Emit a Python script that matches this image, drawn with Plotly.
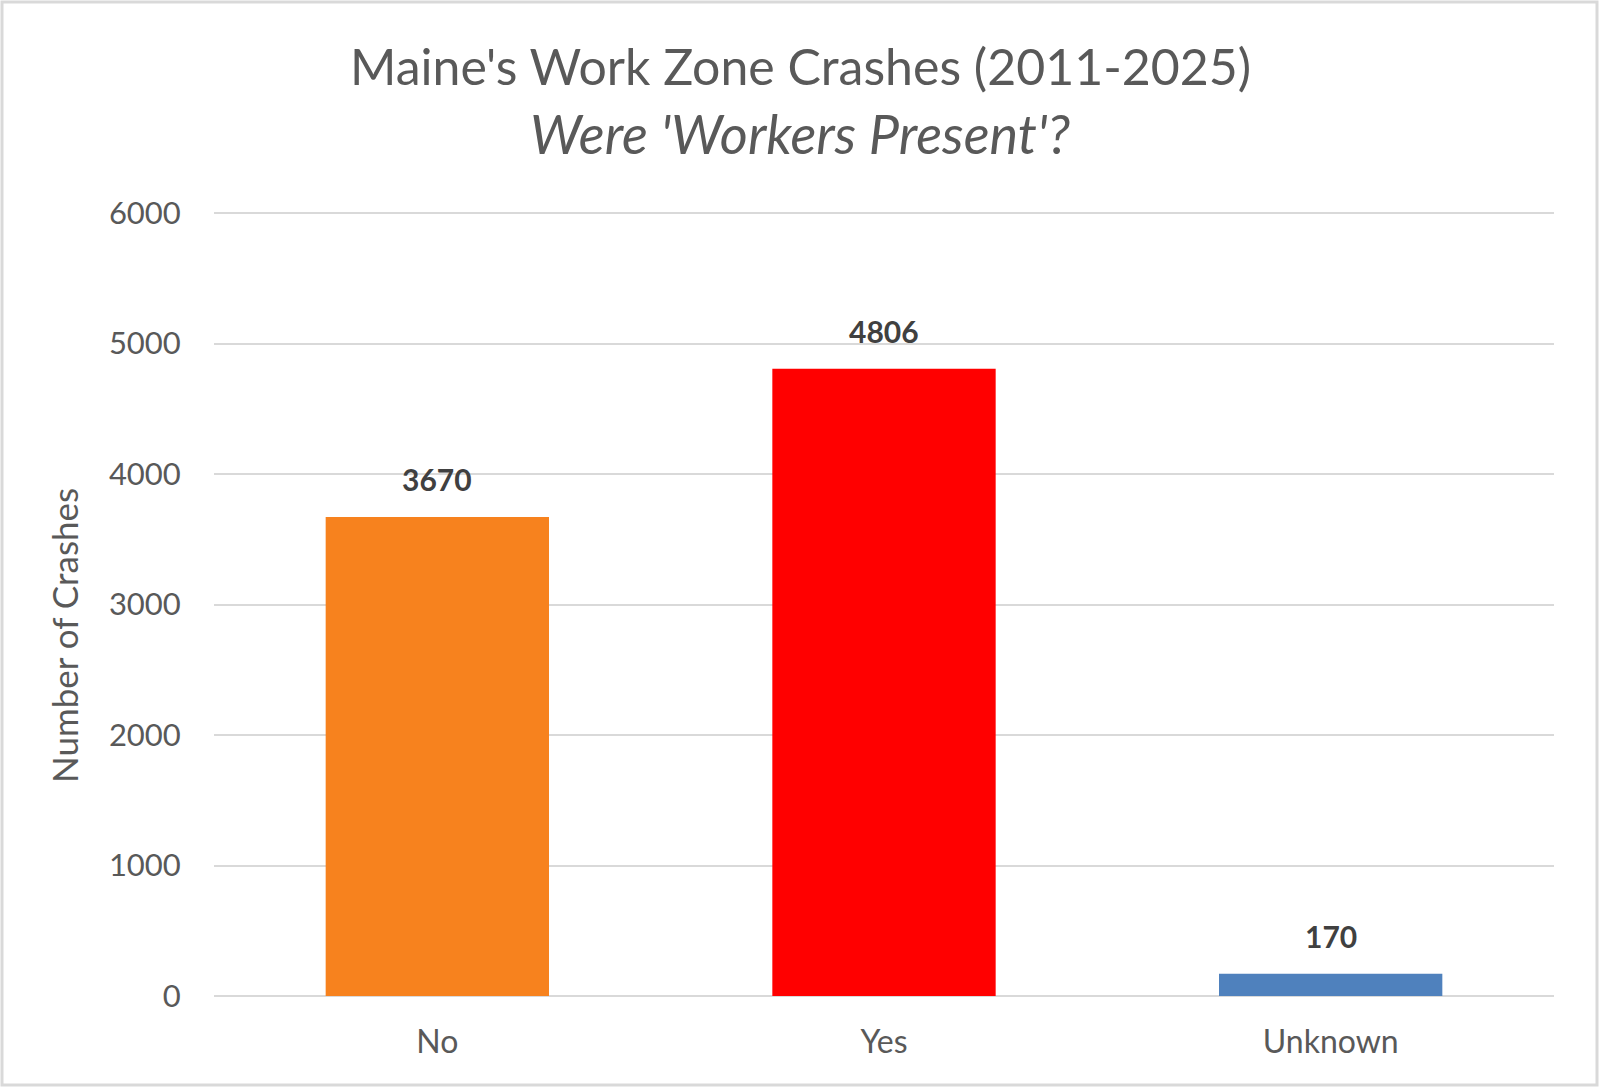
import plotly.graph_objects as go

categories = ["No", "Yes", "Unknown"]
crashes = [3670, 4806, 170]
bar_colors = ["#F7821E", "#FF0000", "#4F81BD"]
y_ticks = [0, 1000, 2000, 3000, 4000, 5000, 6000]
title_text = "Maine's Work Zone Crashes (2011-2025)"
subtitle_text = "Were 'Workers Present'?"
y_title = "Number of Crashes"

W, H = 1600, 1088
L, R, T, B = 214, 46, 212, 92
pw, ph = W - L - R, H - T - B

FONT = "Lato"
GRAY = "#595959"

fig = go.Figure(go.Bar(
    x=categories, y=crashes,
    marker=dict(color=bar_colors, line=dict(width=0)),
    width=0.5,
    hoverinfo="x+y",
))

cx = 0.5 + (800 - (L + pw / 2)) / pw
annotations = [
    dict(text=title_text, xref="paper", yref="paper", x=cx,
         y=1 + (T - 66) / ph, xanchor="center", yanchor="middle", showarrow=False,
         font=dict(family=FONT, size=50, color=GRAY)),
    dict(text="<i>" + subtitle_text + "</i>", xref="paper", yref="paper", x=cx,
         y=1 + (T - 133) / ph, xanchor="center", yanchor="middle", showarrow=False,
         font=dict(family=FONT, size=54, color=GRAY)),
    dict(text=y_title, xref="paper", yref="paper", x=(64 - L) / pw, y=(H - B - 636) / ph,
         xanchor="center", yanchor="middle", textangle=-90, showarrow=False,
         font=dict(family=FONT, size=35, color=GRAY)),
]
for c, v in zip(categories, crashes):
    annotations.append(dict(
        text="<b>%d</b>" % v, x=c, y=v, xref="x", yref="y",
        xanchor="center", yanchor="middle", yshift=38, showarrow=False,
        font=dict(family=FONT, size=30, color="#404040"),
    ))

fig.update_layout(
    width=W, height=H,
    margin=dict(l=L, r=R, t=T, b=B),
    paper_bgcolor="white", plot_bgcolor="white",
    showlegend=False,
    annotations=annotations,
    xaxis=dict(
        showgrid=False, showline=False, zeroline=False,
        ticks="outside", ticklen=18, tickcolor="rgba(0,0,0,0)",
        tickfont=dict(family=FONT, size=32, color=GRAY),
    ),
    yaxis=dict(
        range=[0, 6008], tickvals=y_ticks,
        showgrid=True, gridcolor="#D9D9D9", gridwidth=2,
        zeroline=True, zerolinecolor="#D9D9D9", zerolinewidth=2,
        showline=False,
        ticks="outside", ticklen=26, tickcolor="rgba(0,0,0,0)",
        tickfont=dict(family=FONT, size=31, color=GRAY),
    ),
    shapes=[dict(
        type="rect", xref="paper", yref="paper",
        x0=(-L + 2) / pw, x1=1 + (R - 3) / pw,
        y0=(-B + 3) / ph, y1=1 + (T - 2) / ph,
        line=dict(color="#D9D9D9", width=3), fillcolor="rgba(0,0,0,0)", layer="below",
    )],
)

fig.write_html(
    "out.html",
    config={"displayModeBar": False},
    post_script="document.body.style.margin='0';document.body.style.overflow='hidden';",
)
